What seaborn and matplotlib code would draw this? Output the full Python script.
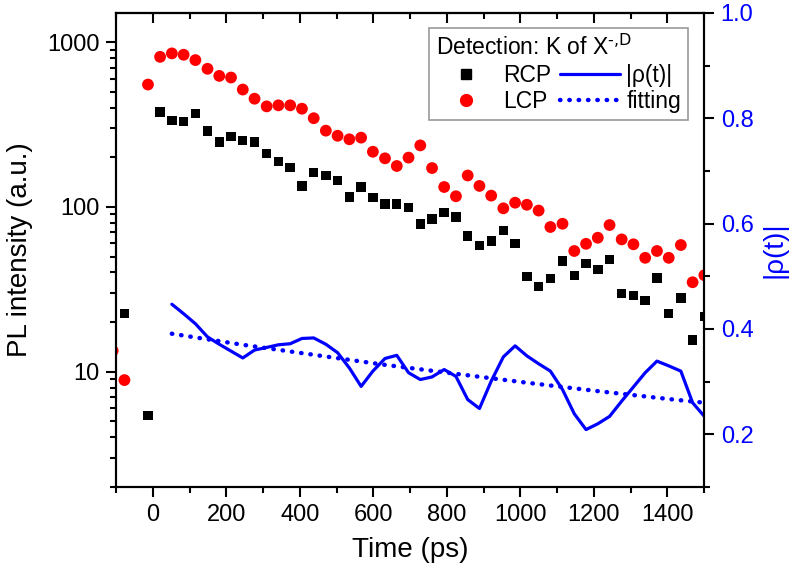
import matplotlib
matplotlib.use('Agg')
import matplotlib.pyplot as plt
import seaborn as sns
import numpy as np
from matplotlib.lines import Line2D
from matplotlib.ticker import FixedLocator, MultipleLocator, LogLocator, FuncFormatter, NullFormatter

# ---------------- data ----------------
times_pl = [-109, -77, -13, 20, 52, 84, 116, 149, 181, 213, 245, 277, 310, 342, 374, 406,
            438, 471, 503, 535, 567, 599, 632, 664, 696, 728, 760, 793, 825, 857, 889, 921,
            954, 986, 1018, 1050, 1082, 1115, 1147, 1179, 1211, 1243, 1276, 1308, 1340,
            1372, 1404, 1437, 1469, 1501]
lcp = [13.4, 8.9, 552, 813, 853, 837, 777, 688, 623, 609, 515, 453, 407, 413, 413, 394,
       345, 290, 270, 257, 263, 216, 197, 177, 199, 236, 172, 132, 116, 155, 134, 117,
       98, 106, 103, 95, 75.5, 79, 54, 59.7, 65, 77.6, 63.5, 59.3, 49.1, 54, 49.1, 58.7,
       34.9, 38.5]
rcp = [6.9, 22.5, 5.45, 376, 335, 330, 367, 289, 247, 267, 253, 247, 210, 188, 174, 134,
       162, 155, 144, 115, 132, 114, 104, 104, 99.5, 78.7, 84.3, 92.3, 86.9, 66.6, 58.4,
       62.1, 72.1, 60.1, 37.9, 33, 36.7, 46.9, 38.5, 45.4, 41.7, 48, 29.8, 29.1, 27.1,
       37.1, 22.6, 28, 15.6, 21.6]
rho_times = [52, 84, 116, 149, 181, 213, 245, 277, 310, 342, 374, 406, 438, 471, 503, 535,
             567, 599, 632, 664, 696, 728, 760, 793, 825, 857, 889, 921, 954, 986, 1018,
             1050, 1082, 1115, 1147, 1179, 1211, 1243, 1276, 1308, 1340, 1372, 1404, 1437,
             1469, 1501]
rho = [0.447, 0.429, 0.410, 0.385, 0.371, 0.358, 0.345, 0.360, 0.365, 0.370,
       0.372, 0.382, 0.383, 0.371, 0.355, 0.326, 0.291, 0.320, 0.344, 0.350,
       0.317, 0.304, 0.309, 0.323, 0.310, 0.266, 0.249, 0.301, 0.347, 0.368,
       0.349, 0.334, 0.320, 0.285, 0.239, 0.209, 0.220, 0.234, 0.263, 0.290,
       0.317, 0.339, 0.330, 0.320, 0.260, 0.234]
fit_times = [52, 245, 438, 631, 824, 1018, 1211, 1404, 1501]
fit_vals = [0.391, 0.370, 0.351, 0.332, 0.315, 0.298, 0.282, 0.267, 0.260]

x_major = [0, 200, 400, 600, 800, 1000, 1200, 1400]
y_left_major = [10, 100, 1000]
legend_title = 'Detection: K of X$^{\\text{-,D}}$'
labels = ['RCP', 'LCP', '|ρ(t)|', 'fitting']

# ---------------- style ----------------
sns.set_style('ticks')
plt.rcParams['font.family'] = ['Liberation Sans', 'DejaVu Sans']
plt.rcParams['mathtext.default'] = 'regular'
for k in ['axes.edgecolor', 'xtick.color', 'ytick.color', 'text.color', 'axes.labelcolor']:
    plt.rcParams[k] = 'black'

RED = '#ff0000'
BLUE = '#0000ff'
FIT_LS = (0, (0.1, 2.0))
FIT_LW = 3.2

fig = plt.figure(figsize=(8, 5.77), dpi=100)
ax = fig.add_axes([0.145, 0.156, 0.735, 0.8215])

sns.scatterplot(x=times_pl, y=lcp, marker='o', color=RED, s=72, edgecolor='none',
                ax=ax, zorder=3)
sns.scatterplot(x=times_pl, y=rcp, marker='s', color='black', s=46, edgecolor='none',
                ax=ax, zorder=3)

ax.set_yscale('log')
ax.set_ylim(2, 1500)
ax.set_xlim(-100, 1500)
ax.yaxis.set_major_locator(FixedLocator(y_left_major))
ax.yaxis.set_major_formatter(FuncFormatter(lambda v, p: f'{v:g}'))
ax.yaxis.set_minor_locator(LogLocator(base=10, subs=np.arange(2, 10)))
ax.yaxis.set_minor_formatter(NullFormatter())
ax.xaxis.set_major_locator(FixedLocator(x_major))
ax.xaxis.set_minor_locator(MultipleLocator(100))

ax.tick_params(which='major', length=7, width=1.5, direction='out', labelsize=17, pad=5)
ax.tick_params(which='minor', length=4, width=1.5, direction='out')
ax.set_xlabel('Time (ps)', fontsize=20, labelpad=8)
ax.set_ylabel('PL intensity (a.u.)', fontsize=20, labelpad=10)

# top ticks (inward)
secax = ax.secondary_xaxis('top')
secax.xaxis.set_major_locator(FixedLocator(x_major))
secax.xaxis.set_minor_locator(MultipleLocator(100))
secax.tick_params(which='major', direction='in', length=7, width=1.5, labeltop=False)
secax.tick_params(which='minor', direction='in', length=4, width=1.5)

# right axis
ax2 = ax.twinx()
sns.lineplot(x=rho_times, y=rho, color=BLUE, lw=2.3, ax=ax2, estimator=None, sort=False)
sns.lineplot(x=fit_times, y=fit_vals, color=BLUE, lw=FIT_LW, linestyle=FIT_LS,
             dash_capstyle='round', ax=ax2, estimator=None, sort=False)
ax2.set_ylim(0.1, 1.0)
ax2.yaxis.set_major_locator(MultipleLocator(0.2))
ax2.yaxis.set_minor_locator(MultipleLocator(0.1))
ax2.yaxis.set_major_formatter(FuncFormatter(lambda v, p: f'{v:.1f}'))
ax2.tick_params(axis='y', which='major', length=7, width=1.5, direction='out',
                labelsize=17, labelcolor=BLUE, pad=5)
ax2.tick_params(axis='y', which='minor', length=4, width=1.5, direction='out')
ax2.set_ylabel('|ρ(t)|', fontsize=20, color=BLUE, labelpad=6)

for a in (ax, ax2, secax):
    for sp in a.spines.values():
        sp.set_linewidth(1.5)
        sp.set_color('black')

# legend
handles = [
    Line2D([], [], marker='s', ls='none', color='black', markersize=6.8),
    Line2D([], [], marker='o', ls='none', color=RED, markersize=8.5),
    Line2D([], [], color=BLUE, lw=2.3),
    Line2D([], [], color=BLUE, lw=FIT_LW, linestyle=FIT_LS, dash_capstyle='round'),
]
leg = ax2.legend(handles, labels, ncol=2, title=legend_title, title_fontsize=16.5,
                 fontsize=16.5, loc='upper right', bbox_to_anchor=(0.973, 0.968),
                 borderaxespad=0, frameon=True, fancybox=False, edgecolor='#999999',
                 framealpha=1, handlelength=2.6, handletextpad=0.3, columnspacing=0.4,
                 labelspacing=0.15, borderpad=0.3, alignment='left')
leg.get_frame().set_linewidth(1.2)

fig.savefig('out.png', dpi=100)
